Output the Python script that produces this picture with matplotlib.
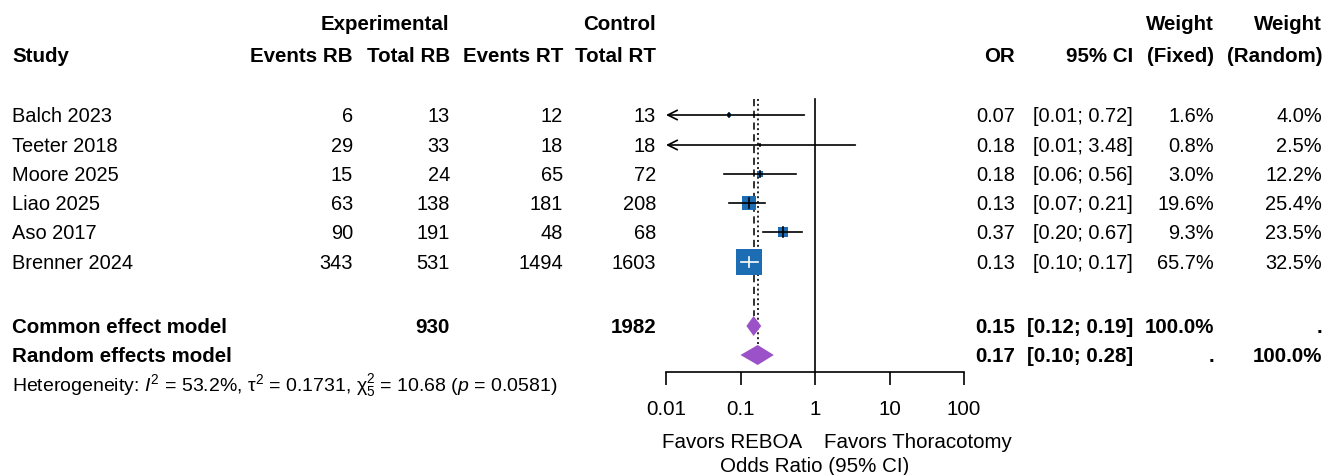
import matplotlib
matplotlib.use("Agg")
import matplotlib.pyplot as plt
import numpy as np

plt.rcParams['font.family'] = ['Liberation Sans', 'DejaVu Sans']
plt.rcParams['mathtext.fontset'] = 'custom'
plt.rcParams['mathtext.rm'] = 'Liberation Sans'
plt.rcParams['mathtext.it'] = 'Liberation Sans:italic'
plt.rcParams['mathtext.fallback'] = 'stixsans'

# ---- data
studies = ['Balch 2023', 'Teeter 2018', 'Moore 2025', 'Liao 2025', 'Aso 2017', 'Brenner 2024']
events_rb = [6, 29, 15, 63, 90, 343]
total_rb = [13, 33, 24, 138, 191, 531]
events_rt = [12, 18, 65, 181, 48, 1494]
total_rt = [13, 18, 72, 208, 68, 1603]
odds = [0.07, 0.18, 0.18, 0.13, 0.37, 0.13]
ci_lo = [0.01, 0.01, 0.06, 0.07, 0.20, 0.10]
ci_hi = [0.72, 3.48, 0.56, 0.21, 0.67, 0.17]
w_fixed = [1.6, 0.8, 3.0, 19.6, 9.3, 65.7]
w_random = [4.0, 2.5, 12.2, 25.4, 23.5, 32.5]

common = (0.15, 0.12, 0.19)
random_ = (0.17, 0.10, 0.28)
sum_rb, sum_rt = 930, 1982
hetero = r"Heterogeneity: $\mathit{I}^{2}$ = 53.2%, $\mathrm{\tau}^{2}$ = 0.1731, $\mathrm{\chi}^{2}_{5}$ = 10.68 ($\mathit{p}$ = 0.0581)"
xticks = [0.01, 0.1, 1, 10, 100]
xtick_labels = ['0.01', '0.1', '1', '10', '100']

# ---- layout (pixels)
W, H = 1326, 475
FS = 14.4
FS_B = 14.8
FS_HET = 14
blue = '#1c6db3'
purple = '#9b52c8'
row_y = [115, 145, 174, 203, 232, 262]
y_common, y_random, y_het = 326, 355, 384
y_axis = 372
col_x = {'erb': 353, 'trb': 450, 'ert': 563, 'trt': 656,
         'or': 1015, 'ci': 1133, 'wf': 1214, 'wr': 1322}

fig = plt.figure(figsize=(W / 100, H / 100), dpi=100)
bg = fig.add_axes([0, 0, 1, 1])
bg.set_xlim(0, W)
bg.set_ylim(H, 0)
bg.axis('off')


def put(x, y, s, ha='right', bold=False, size=None):
    if size is None:
        size = FS_B if bold else FS
    # baseline placed so that cap height is centred on y
    bg.text(x, y + size * 100 / 72 * 0.36, s, ha=ha, va='baseline', fontsize=size,
            fontweight='bold' if bold else 'normal')


# headers
put(449, 23, 'Experimental', bold=True)
put(656, 23, 'Control', bold=True)
put(col_x['wf'], 23, 'Weight', bold=True)
put(col_x['wr'], 23, 'Weight', bold=True)
put(12, 55, 'Study', ha='left', bold=True)
for key, lab in [('erb', 'Events RB'), ('trb', 'Total RB'), ('ert', 'Events RT'), ('trt', 'Total RT'),
                 ('or', 'OR'), ('ci', '95% CI'), ('wf', '(Fixed)'), ('wr', '(Random)')]:
    put(col_x[key], 55, lab, bold=True)

for i, y in enumerate(row_y):
    put(12, y, studies[i], ha='left')
    put(col_x['erb'], y, str(events_rb[i]))
    put(col_x['trb'], y, str(total_rb[i]))
    put(col_x['ert'], y, str(events_rt[i]))
    put(col_x['trt'], y, str(total_rt[i]))
    put(col_x['or'], y, f'{odds[i]:.2f}')
    put(col_x['ci'], y, f'[{ci_lo[i]:.2f}; {ci_hi[i]:.2f}]')
    put(col_x['wf'], y, f'{w_fixed[i]:.1f}%')
    put(col_x['wr'], y, f'{w_random[i]:.1f}%')

put(12, y_common, 'Common effect model', ha='left', bold=True)
put(col_x['trb'], y_common, str(sum_rb), bold=True)
put(col_x['trt'], y_common, str(sum_rt), bold=True)
put(col_x['or'], y_common, f'{common[0]:.2f}', bold=True)
put(col_x['ci'], y_common, f'[{common[1]:.2f}; {common[2]:.2f}]', bold=True)
put(col_x['wf'], y_common, '100.0%', bold=True)
put(col_x['wr'], y_common, '.', bold=True)

put(12, y_random, 'Random effects model', ha='left', bold=True)
put(col_x['or'], y_random, f'{random_[0]:.2f}', bold=True)
put(col_x['ci'], y_random, f'[{random_[1]:.2f}; {random_[2]:.2f}]', bold=True)
put(col_x['wf'], y_random, '.', bold=True)
put(col_x['wr'], y_random, '100.0%', bold=True)

put(12, y_het, hetero, ha='left', size=FS_HET)

put(802, 441, 'Favors REBOA', ha='right', size=14.8)
put(824, 441, 'Favors Thoracotomy', ha='left', size=14.8)
put(815, 465, 'Odds Ratio (95% CI)', ha='center', size=14.8)

# ---- forest panel
x0, x1 = 666, 964
ax = fig.add_axes([x0 / W, (H - y_axis) / H, (x1 - x0) / W, y_axis / H])
ax.patch.set_visible(False)
ax.set_xscale('log')
ax.set_xlim(xticks[0], xticks[-1])
ax.set_ylim(y_axis, 0)
for s in ('top', 'left', 'right'):
    ax.spines[s].set_visible(False)
ax.spines['bottom'].set_linewidth(1.2)
ax.set_yticks([])
ax.set_xticks(xticks)
ax.set_xticklabels(xtick_labels)
ax.minorticks_off()
ax.tick_params(axis='x', direction='out', length=9.5, width=1.2, pad=11, labelsize=14.8)

ax.plot([1, 1], [99, y_axis], color='black', lw=1.2, clip_on=False)
ax.plot([common[0]] * 2, [99, y_common - 10], color='#222222', lw=1.3, ls=(0, (4, 2.5)))
ax.plot([random_[0]] * 2, [99, y_random - 10], color='#222222', lw=1.4, ls=(0, (1, 1.5)))

px_per_dec = (x1 - x0) / 4.0
for i, y in enumerate(row_y):
    side = 3.2 * np.sqrt(w_fixed[i])
    lo, hi, est = ci_lo[i], ci_hi[i], odds[i]
    half_dec = side / 2 / px_per_dec
    inside = np.log10(lo) >= np.log10(est) - half_dec and np.log10(hi) <= np.log10(est) + half_dec
    ax.scatter([est], [y], marker='s', s=(side * 0.72) ** 2, color=blue, zorder=3, linewidths=0)
    lc = 'white' if inside else 'black'
    if lo <= xticks[0]:
        ax.annotate('', xy=(xticks[0], y), xytext=(hi, y),
                    arrowprops=dict(arrowstyle='->', lw=1.2, color='black', mutation_scale=17,
                                    shrinkA=0, shrinkB=0), zorder=4)
    else:
        ax.plot([lo, hi], [y, y], color=lc, lw=1.2, zorder=4)
    tick = min(side, 10)
    ax.plot([est, est], [y - tick / 2, y + tick / 2], color=lc, lw=1.2, zorder=4)

for (est, lo, hi), y in [(common, y_common), (random_, y_random)]:
    ax.fill([lo, est, hi, est], [y, y - 10, y, y + 10], color=purple, lw=0, zorder=3)

fig.savefig('out.png', dpi=100)
